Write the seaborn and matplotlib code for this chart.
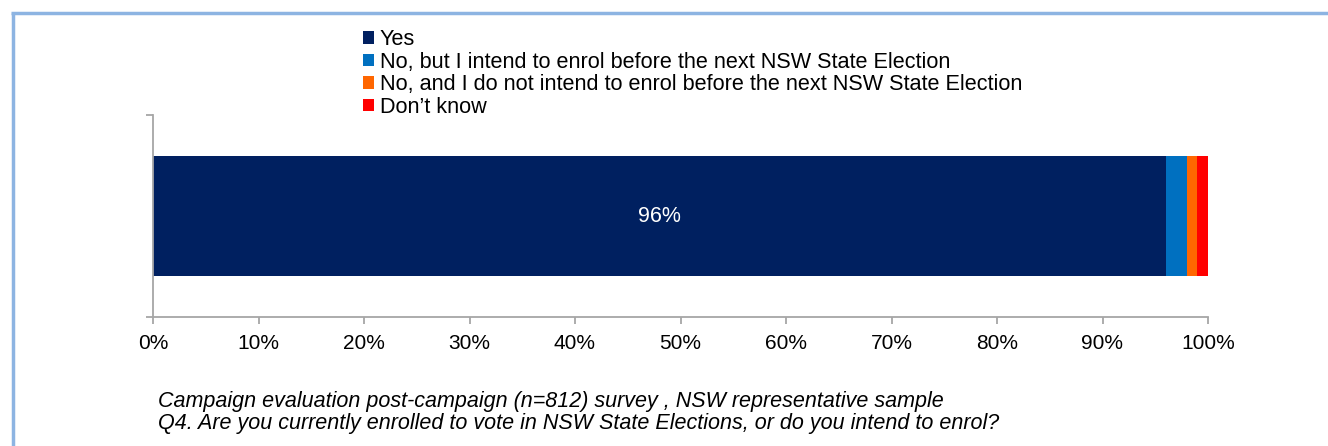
import matplotlib
matplotlib.use("Agg")
import matplotlib.pyplot as plt
from matplotlib.lines import Line2D
from matplotlib.patches import Patch
from matplotlib.ticker import FuncFormatter
import seaborn as sns
import numpy as np

# Survey response shares (percent)
categories = ["Q4"]
series_names = [
    "Yes",
    "No, but I intend to enrol before the next NSW State Election",
    "No, and I do not intend to enrol before the next NSW State Election",
    "Don\u2019t know",
]
series_values = [96, 2, 1, 1]
series_colors = ["#002060", "#0070C0", "#FF6600", "#FF0000"]
x_ticks = list(range(0, 101, 10))
footnote_lines = [
    "Campaign evaluation post-campaign (n=812) survey , NSW representative sample",
    "Q4. Are you currently enrolled to vote in NSW State Elections, or do you intend to enrol?",
]

sns.set_theme(style="white")
plt.rcParams["font.family"] = ["Liberation Sans", "DejaVu Sans"]

W, H = 1328, 446
fig = plt.figure(figsize=(W / 100, H / 100), dpi=100)
ax = fig.add_axes([153 / W, 1 - 317 / H, 1055 / W, 202 / H])

# Stacked horizontal bar: draw cumulative totals from the outermost segment inward
cum = np.cumsum(series_values)
for i in range(len(series_values) - 1, -1, -1):
    sns.barplot(x=[cum[i]], y=categories, color=series_colors[i], width=0.594,
                orient="h", ax=ax, saturation=1, linewidth=0)

ax.set_xlim(0, 100)
ax.set_ylim(0.5, -0.5)
ax.set_xticks(x_ticks)
ax.xaxis.set_major_formatter(FuncFormatter(lambda v, p: f"{int(v)}%"))
ax.set_yticks([-0.5, 0.5])
ax.set_yticklabels([])
ax.set_xlabel("")
ax.set_ylabel("")

spine_col = "#A6A6A6"
for s in ["top", "right"]:
    ax.spines[s].set_visible(False)
for s in ["left", "bottom"]:
    ax.spines[s].set_color(spine_col)
    ax.spines[s].set_linewidth(1.3)
ax.tick_params(axis="x", direction="out", length=5, width=1.3, color=spine_col,
               labelsize=15, labelcolor="black", pad=7, bottom=True)
ax.tick_params(axis="y", direction="out", length=5, width=1.3, color=spine_col, left=True)

# Value label on the main segment
ax.text(series_values[0] / 2, 0, f"{series_values[0]}%", color="white",
        ha="center", va="center", fontsize=15.5)

# Legend
handles = [Patch(facecolor=c, edgecolor="none") for c in series_colors]
fig.legend(handles, series_names, loc="upper left",
           bbox_to_anchor=(363 / W, 1 - 29 / H), frameon=False, fontsize=15.6,
           handlelength=0.52, handleheight=0.52, handletextpad=0.25,
           labelspacing=0.07, borderaxespad=0, borderpad=0, labelcolor="black")

# Footnotes
for k, line in enumerate(footnote_lines):
    fig.text(158 / W, 1 - (407 + 22 * k) / H, line, fontsize=15.5, style="italic",
             ha="left", va="baseline", color="black")

# Panel frame
frame_col = "#8DB4E2"
fig.add_artist(Line2D([12.5 / W, 12.5 / W], [0, 1 - 13 / H], color=frame_col,
                      linewidth=2.5, transform=fig.transFigure, solid_capstyle="butt"))
fig.add_artist(Line2D([11.3 / W, 1], [1 - 13 / H, 1 - 13 / H], color=frame_col,
                      linewidth=2.5, transform=fig.transFigure, solid_capstyle="butt"))

fig.savefig("out.png", dpi=100, facecolor="white")
